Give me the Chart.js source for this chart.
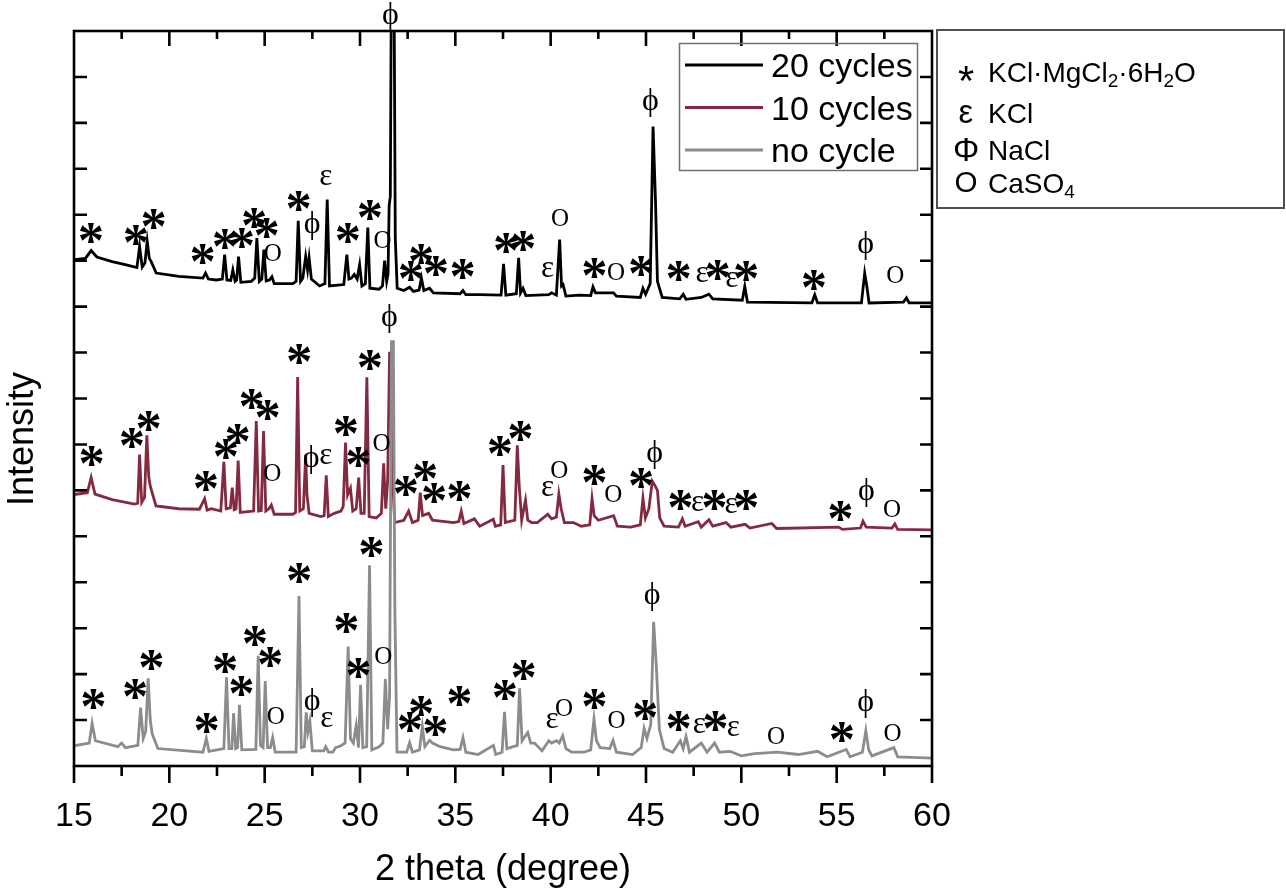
<!DOCTYPE html>
<html>
<head>
<meta charset="utf-8">
<title>XRD cycles</title>
<script src="https://cdn.jsdelivr.net/npm/chart.js@4.4.0/dist/chart.umd.min.js"></script>
<style>
  body { margin: 0; background: #fff; }
</style>
</head>
<body>
<canvas id="xrdChart" width="1286" height="894"></canvas>
<script>
// 2 theta / intensity (offset units)
var cycles20 = [
  [15.0, 11.02], [15.6, 11.05], [15.9, 11.22], [16.2, 11.08], [17.0, 10.98], [17.74, 10.91],
  [18.3, 10.85], [18.44, 11.31], [18.58, 10.86], [18.72, 10.95], [18.84, 11.42], [18.95, 11.05],
  [19.05, 10.98], [19.31, 10.73], [20.5, 10.66], [21.76, 10.62], [21.9, 10.73], [22.05, 10.6],
  [22.46, 10.58], [22.78, 10.6], [22.9, 11.13], [23.02, 10.58], [23.22, 10.57], [23.33, 10.8],
  [23.45, 10.55], [23.53, 10.58], [23.63, 11.09], [23.75, 10.53], [24.3, 10.55], [24.48, 10.62],
  [24.59, 11.49], [24.72, 10.55], [24.85, 10.6], [24.96, 11.24], [25.08, 10.56], [25.25, 10.58],
  [25.38, 10.65], [25.5, 10.5], [26.48, 10.5], [26.65, 10.55], [26.76, 11.87], [26.88, 10.55],
  [27.0, 10.62], [27.15, 11.09], [27.25, 10.8], [27.33, 11.07], [27.45, 10.6], [27.88, 10.45],
  [28.16, 10.5], [28.28, 12.33], [28.4, 10.45], [29.15, 10.48], [29.31, 11.13], [29.42, 10.6],
  [29.55, 10.62], [29.7, 10.7], [29.85, 10.6], [29.98, 10.91], [30.1, 10.45], [30.28, 10.5],
  [30.41, 11.72], [30.52, 10.4], [31.0, 10.38], [31.18, 10.45], [31.29, 11.0], [31.4, 10.55],
  [31.47, 10.7], [31.53, 12.2], [31.59, 12.4], [31.65, 17.5], [31.78, 17.5], [31.85, 11.5],
  [31.95, 10.4], [32.3, 10.35], [32.6, 10.42], [32.8, 10.33], [33.1, 10.36], [33.22, 10.62],
  [33.35, 10.35], [33.65, 10.4], [33.85, 10.3], [35.25, 10.28], [35.4, 10.35], [35.55, 10.26],
  [36.28, 10.26], [37.4, 10.25], [37.53, 10.93], [37.65, 10.25], [38.2, 10.28], [38.32, 11.06],
  [38.42, 10.3], [38.55, 10.4], [38.7, 10.24], [39.9, 10.26], [40.05, 10.3], [40.3, 10.25],
  [40.47, 11.46], [40.57, 10.45], [40.65, 10.48], [40.8, 10.23], [41.5, 10.25], [42.1, 10.24],
  [42.22, 10.43], [42.35, 10.3], [43.3, 10.3], [43.45, 10.23], [44.7, 10.2], [44.84, 10.4],
  [44.98, 10.27], [45.22, 10.5], [45.37, 13.92], [45.5, 12.27], [45.6, 10.55], [45.85, 10.2],
  [46.77, 10.17], [46.95, 10.27], [47.1, 10.16], [47.9, 10.2], [48.3, 10.27], [48.5, 10.17],
  [50.05, 10.14], [50.18, 10.44], [50.32, 10.1], [53.7, 10.08], [53.85, 10.26], [54.0, 10.08],
  [56.3, 10.08], [56.47, 10.73], [56.58, 10.45], [56.7, 10.08], [58.5, 10.1], [58.66, 10.19],
  [58.8, 10.08], [60.0, 10.08]
];

var cycles10 = [
  [15.0, 5.91], [15.7, 5.95], [15.9, 6.28], [16.1, 5.92], [17.0, 5.8], [18.17, 5.7],
  [18.34, 5.72], [18.44, 6.78], [18.55, 5.74], [18.7, 5.85], [18.82, 7.2], [18.92, 6.3],
  [19.0, 6.09], [19.3, 5.66], [20.5, 5.6], [21.58, 5.59], [21.85, 5.82], [21.98, 5.57],
  [22.2, 5.6], [22.7, 5.55], [22.86, 6.62], [22.98, 5.6], [23.2, 5.62], [23.3, 6.06],
  [23.4, 5.58], [23.5, 5.6], [23.61, 6.65], [23.72, 5.52], [24.42, 5.55], [24.56, 7.51],
  [24.68, 5.55], [24.82, 5.56], [24.94, 7.29], [25.06, 5.55], [25.22, 5.6], [25.35, 5.68],
  [25.5, 5.48], [26.48, 5.48], [26.62, 5.52], [26.73, 8.47], [26.84, 5.55], [27.03, 5.6],
  [27.15, 6.78], [27.22, 5.9], [27.33, 5.5], [27.95, 5.43], [28.12, 5.45], [28.23, 6.33],
  [28.34, 5.43], [28.65, 5.5], [29.0, 5.55], [29.12, 5.65], [29.24, 7.04], [29.35, 5.9],
  [29.5, 6.05], [29.62, 5.55], [29.8, 5.6], [29.93, 6.28], [30.05, 5.5], [30.22, 5.5],
  [30.36, 8.46], [30.48, 5.43], [30.85, 5.4], [31.12, 5.5], [31.24, 6.59], [31.35, 5.6],
  [31.45, 6.2], [31.55, 8.99], [31.66, 9.0], [31.74, 6.0], [31.82, 5.3], [32.3, 5.35],
  [32.55, 5.55], [32.75, 5.3], [33.05, 5.35], [33.16, 5.95], [33.28, 5.45], [33.6, 5.5],
  [33.8, 5.35], [34.9, 5.3], [35.18, 5.32], [35.31, 5.55], [35.45, 5.28], [36.0, 5.38],
  [36.28, 5.22], [36.99, 5.37], [37.1, 5.22], [37.38, 5.25], [37.5, 6.55], [37.62, 5.3],
  [38.12, 5.35], [38.25, 6.98], [38.35, 6.1], [38.48, 5.35], [38.68, 5.79], [38.8, 5.35],
  [39.0, 5.3], [39.3, 5.3], [39.85, 5.48], [40.05, 5.38], [40.3, 5.42], [40.43, 5.92],
  [40.55, 5.6], [40.72, 5.3], [41.2, 5.3], [41.6, 5.22], [42.05, 5.25], [42.17, 5.82],
  [42.28, 5.45], [42.5, 5.35], [43.3, 5.45], [43.5, 5.22], [44.2, 5.2], [44.7, 5.25],
  [44.84, 5.83], [44.97, 5.4], [45.15, 5.6], [45.33, 6.2], [45.45, 6.12], [45.6, 6.0],
  [45.72, 5.4], [45.95, 5.22], [46.7, 5.2], [46.91, 5.38], [47.05, 5.22], [47.74, 5.32],
  [47.9, 5.2], [48.3, 5.36], [48.5, 5.22], [49.2, 5.3], [49.45, 5.2], [50.2, 5.26],
  [50.45, 5.18], [51.6, 5.28], [51.85, 5.17], [55.1, 5.2], [55.3, 5.15], [56.25, 5.18],
  [56.38, 5.33], [56.55, 5.2], [57.9, 5.18], [58.05, 5.27], [58.2, 5.15], [60.0, 5.14]
];

var noCycle = [
  [15.0, 0.44], [15.8, 0.5], [15.95, 0.93], [16.12, 0.55], [17.3, 0.42], [17.5, 0.5],
  [17.7, 0.4], [18.35, 0.45], [18.49, 1.27], [18.63, 0.6], [18.76, 0.75], [18.89, 1.91],
  [19.0, 1.0], [19.1, 0.7], [19.4, 0.38], [21.76, 0.3], [21.94, 0.6], [22.08, 0.32],
  [22.86, 0.38], [23.0, 1.93], [23.13, 0.38], [23.28, 0.38], [23.37, 1.15], [23.48, 0.38],
  [23.58, 0.4], [23.68, 1.33], [23.8, 0.35], [24.54, 0.36], [24.66, 2.4], [24.78, 0.45],
  [24.92, 0.4], [25.03, 1.85], [25.15, 0.4], [25.3, 0.4], [25.42, 0.62], [25.55, 0.3],
  [26.65, 0.3], [26.8, 3.7], [26.92, 0.4], [27.08, 0.42], [27.18, 1.17], [27.27, 0.75],
  [27.37, 0.97], [27.5, 0.33], [28.1, 0.33], [28.2, 0.42], [28.35, 0.3], [28.58, 0.3],
  [28.72, 0.4], [29.0, 0.44], [29.22, 0.5], [29.38, 2.6], [29.5, 0.59], [29.65, 0.5],
  [29.8, 0.88], [29.92, 0.4], [30.03, 1.77], [30.15, 0.4], [30.35, 0.42], [30.5, 4.37],
  [30.62, 0.35], [31.0, 0.42], [31.2, 0.5], [31.33, 1.89], [31.45, 0.8], [31.55, 1.5],
  [31.65, 9.24], [31.75, 9.24], [31.83, 3.35], [31.94, 0.3], [32.45, 0.3], [32.6, 0.51],
  [32.75, 0.3], [33.12, 0.35], [33.27, 0.86], [33.4, 0.42], [33.65, 0.56], [33.8, 0.5],
  [34.2, 0.42], [34.9, 0.35], [35.25, 0.36], [35.4, 0.62], [35.55, 0.3], [36.2, 0.25],
  [37.0, 0.45], [37.12, 0.25], [37.45, 0.3], [37.58, 1.18], [37.7, 0.38], [38.25, 0.45],
  [38.37, 1.69], [38.5, 0.55], [38.8, 0.73], [38.95, 0.5], [39.15, 0.5], [39.55, 0.33],
  [39.9, 0.55], [40.05, 0.5], [40.3, 0.55], [40.45, 0.5], [40.63, 0.66], [40.8, 0.38],
  [41.1, 0.3], [41.75, 0.3], [42.1, 0.35], [42.27, 1.02], [42.4, 0.55], [42.6, 0.4],
  [43.1, 0.38], [43.27, 0.56], [43.45, 0.3], [44.3, 0.25], [44.75, 0.4], [44.9, 0.82],
  [45.05, 0.6], [45.25, 0.9], [45.4, 3.14], [45.55, 2.11], [45.7, 0.8], [45.95, 0.38],
  [46.4, 0.3], [46.8, 0.55], [46.95, 0.38], [47.1, 0.64], [47.28, 0.3], [47.9, 0.5],
  [48.2, 0.3], [48.6, 0.5], [48.85, 0.3], [49.4, 0.32], [50.0, 0.22], [50.7, 0.27],
  [51.9, 0.3], [53.0, 0.25], [54.0, 0.32], [54.5, 0.2], [55.5, 0.36], [55.7, 0.2],
  [56.35, 0.3], [56.53, 0.77], [56.68, 0.35], [56.85, 0.22], [58.0, 0.4], [58.2, 0.2],
  [60.0, 0.17]
];

// phase marks above the peaks: symbol, 2 theta, height
var marks20 = [
  ['*', 15.9, 11.6], ['*', 18.26, 11.57], ['*', 19.19, 11.91], ['*', 21.76, 11.15], ['*', 22.93, 11.47],
  ['*', 23.82, 11.49], ['*', 24.47, 11.93], ['*', 25.12, 11.72], ['O', 25.45, 11.17], ['*', 26.8, 12.31],
  ['ϕ', 27.5, 11.76], ['ε', 28.23, 12.81], ['*', 29.38, 11.6], ['*', 30.54, 12.11], ['O', 31.2, 11.46],
  ['ϕ', 31.6, 16.31], ['*', 32.69, 10.77], ['*', 33.22, 11.15], ['*', 34.0, 10.88], ['*', 35.4, 10.82],
  ['*', 37.68, 11.38], ['*', 38.58, 11.42], ['ε', 39.86, 10.8], ['O', 40.52, 11.95], ['*', 42.31, 10.84],
  ['O', 43.45, 10.77], ['*', 44.76, 10.88], ['ϕ', 45.23, 14.44], ['*', 46.73, 10.77], ['ε', 47.96, 10.7],
  ['*', 48.78, 10.8], ['ε', 49.53, 10.59], ['*', 50.27, 10.77], ['*', 53.82, 10.57], ['ϕ', 56.53, 11.33],
  ['O', 58.1, 10.7]
];
var marks10 = [
  ['*', 15.94, 6.74], ['*', 18.05, 7.14], ['*', 18.93, 7.51], ['*', 21.94, 6.2], ['*', 22.99, 6.89],
  ['*', 23.6, 7.22], ['*', 24.33, 7.98], ['*', 25.17, 7.76], ['O', 25.43, 6.38], ['*', 26.83, 8.96],
  ['ϕ', 27.44, 6.67], ['ε', 28.23, 6.74], ['*', 29.28, 7.41], ['*', 29.93, 6.73], ['*', 30.54, 8.83],
  ['O', 31.15, 7.04], ['ϕ', 31.55, 9.75], ['*', 32.43, 6.09], ['*', 33.43, 6.42], ['*', 33.91, 5.95],
  ['*', 35.23, 5.99], ['*', 37.36, 6.96], ['*', 38.43, 7.3], ['ε', 39.86, 6.04], ['O', 40.47, 6.46],
  ['*', 42.31, 6.33], ['O', 43.31, 5.93], ['*', 44.76, 6.28], ['ϕ', 45.46, 6.78], ['*', 46.82, 5.8],
  ['ε', 47.73, 5.72], ['*', 48.6, 5.8], ['ε', 49.48, 5.66], ['*', 50.27, 5.8], ['*', 55.21, 5.55],
  ['ϕ', 56.56, 5.96], ['O', 57.93, 5.6]
];
var marks0 = [
  ['*', 16.04, 1.46], ['*', 18.23, 1.67], ['*', 19.08, 2.31], ['*', 21.97, 0.93], ['*', 22.95, 2.24],
  ['*', 23.8, 1.75], ['*', 24.5, 2.83], ['*', 25.31, 2.38], ['O', 25.61, 1.11], ['*', 26.83, 4.2],
  ['ϕ', 27.5, 1.38], ['ε', 28.28, 1.02], ['*', 29.31, 3.11], ['*', 29.94, 2.13], ['*', 30.62, 4.77],
  ['O', 31.25, 2.41], ['*', 32.64, 0.95], ['*', 33.22, 1.31], ['*', 33.97, 0.88], ['*', 35.23, 1.53],
  ['*', 37.62, 1.66], ['*', 38.6, 2.09], ['ε', 40.09, 0.98], ['O', 40.73, 1.27], ['*', 42.31, 1.46],
  ['O', 43.48, 1.02], ['*', 44.97, 1.22], ['ϕ', 45.33, 3.7], ['*', 46.73, 0.97], ['ε', 47.82, 0.88],
  ['*', 48.66, 0.97], ['ε', 49.6, 0.82], ['O', 51.84, 0.67], ['*', 55.29, 0.75], ['ϕ', 56.53, 1.35],
  ['O', 57.96, 0.73]
];

var seriesNames = ['20 cycles', '10 cycles', 'no cycle'];
var seriesColors = ['#000000', '#842a40', '#8c8c8c'];

var phaseSymbols = ['*', 'ε', 'Φ', 'O'];
var phaseNames = [
  [['KCl·MgCl', 0], ['2', 1], ['·6H', 0], ['2', 1], ['O', 0]],
  [['KCl', 0]],
  [['NaCl', 0]],
  [['CaSO', 0], ['4', 1]]
];

var sans = '"Liberation Sans", Arial, sans-serif';
var serif = '"Liberation Serif", "DejaVu Serif", serif';
// wanted ink height of each mark glyph, px
var markHeight = { '*': 20, 'ε': 15, 'ϕ': 29, 'O': 17 };
var keyHeight = { '*': 15, 'ε': 18, 'Φ': 23, 'O': 21 };

function toPoints(arr) {
  return arr.map(function (p) { return { x: p[0], y: p[1] }; });
}

// font size that gives a glyph the wanted ink height
var fontCache = {};
function fitFont(ctx, sym, family, weight, height) {
  var key = sym + family + weight + height;
  if (fontCache[key]) return fontCache[key];
  ctx.font = weight + ' 100px ' + family;
  var m = ctx.measureText(sym);
  var h = m.actualBoundingBoxAscent + m.actualBoundingBoxDescent;
  fontCache[key] = weight + ' ' + (100 * height / h).toFixed(1) + 'px ' + family;
  return fontCache[key];
}

function drawCentered(ctx, text, cx, cy) {
  var m = ctx.measureText(text);
  var x = cx - (m.actualBoundingBoxRight - m.actualBoundingBoxLeft) / 2;
  var y = cy - (m.actualBoundingBoxDescent - m.actualBoundingBoxAscent) / 2;
  ctx.fillText(text, x, y);
}

var decorPlugin = {
  id: 'decor',
  afterDraw: function (chart) {
    var ctx = chart.ctx;
    var xs = chart.scales.x;
    var ys = chart.scales.y;
    var a = chart.chartArea;

    ctx.save();
    ctx.strokeStyle = '#000';
    ctx.lineWidth = 2.6;
    ctx.strokeRect(a.left, a.top, a.right - a.left, a.bottom - a.top);

    ctx.beginPath();
    xs.ticks.forEach(function (t) {
      var px = xs.getPixelForValue(t.value);
      var major = t.value % 5 === 0;
      ctx.moveTo(px, a.bottom);
      ctx.lineTo(px, a.bottom + (major ? 17 : 10));
      if (t.value > xs.min && t.value < xs.max) {
        ctx.moveTo(px, a.top);
        ctx.lineTo(px, a.top + (major ? 15 : 8));
      }
    });
    ys.ticks.forEach(function (t) {
      if (t.value <= ys.min || t.value >= ys.max) return;
      var py = ys.getPixelForValue(t.value);
      ctx.moveTo(a.left, py);
      ctx.lineTo(a.left + 13, py);
      ctx.moveTo(a.right, py);
      ctx.lineTo(a.right - 12, py);
    });
    ctx.stroke();

    // phase marks
    ctx.fillStyle = '#000';
    ctx.textAlign = 'left';
    ctx.textBaseline = 'alphabetic';
    [marks20, marks10, marks0].forEach(function (list) {
      list.forEach(function (mk) {
        ctx.font = fitFont(ctx, mk[0], serif, mk[0] === '*' ? 'bold' : 'normal', markHeight[mk[0]]);
        drawCentered(ctx, mk[0], xs.getPixelForValue(mk[1]), ys.getPixelForValue(mk[2]));
      });
    });

    // series legend
    ctx.strokeStyle = '#707070';
    ctx.lineWidth = 1.5;
    ctx.strokeRect(679.5, 43.5, 238, 127);
    ctx.font = '34px ' + sans;
    chart.data.datasets.forEach(function (ds, i) {
      var ly = 65 + i * 42.5;
      ctx.strokeStyle = ds.borderColor;
      ctx.lineWidth = 3;
      ctx.beginPath();
      ctx.moveTo(685, ly);
      ctx.lineTo(763, ly);
      ctx.stroke();
      ctx.fillStyle = '#000';
      ctx.fillText(ds.label, 771, ly + 12);
    });

    // phase key
    ctx.strokeStyle = '#505050';
    ctx.lineWidth = 2;
    ctx.strokeRect(937, 30, 347, 178);
    var rowY = [82, 123, 160, 193];
    var symY = [74, 114, 149, 182];
    phaseSymbols.forEach(function (sym, i) {
      ctx.font = fitFont(ctx, sym, sans, 'normal', keyHeight[sym]);
      drawCentered(ctx, sym, 966, symY[i]);
      var x = 988;
      phaseNames[i].forEach(function (seg) {
        ctx.font = (seg[1] ? '19px ' : '28px ') + sans;
        ctx.fillText(seg[0], x, rowY[i] + (seg[1] ? 5 : 0));
        x += ctx.measureText(seg[0]).width;
      });
    });

    // y axis title
    ctx.font = '36px ' + sans;
    ctx.textAlign = 'center';
    ctx.translate(33, 439);
    ctx.rotate(-Math.PI / 2);
    ctx.fillText('Intensity', 0, 0);
    ctx.restore();
  }
};

var chart = new Chart(document.getElementById('xrdChart'), {
  type: 'line',
  data: {
    datasets: [
      { label: seriesNames[0], data: toPoints(cycles20), borderColor: seriesColors[0], order: 1 },
      { label: seriesNames[1], data: toPoints(cycles10), borderColor: seriesColors[1], order: 2 },
      { label: seriesNames[2], data: toPoints(noCycle), borderColor: seriesColors[2], order: 0 }
    ]
  },
  options: {
    responsive: false,
    animation: false,
    devicePixelRatio: 1,
    elements: {
      point: { radius: 0 },
      line: { borderWidth: 2.8, tension: 0, fill: false }
    },
    layout: { padding: { left: 0, right: 354, top: 31, bottom: 0 } },
    plugins: {
      legend: { display: false },
      tooltip: { enabled: false }
    },
    scales: {
      x: {
        type: 'linear',
        min: 15,
        max: 60,
        afterFit: function (s) { s.height = 128; },
        grid: { display: false },
        border: { display: false },
        ticks: {
          stepSize: 2.5,
          autoSkip: false,
          maxRotation: 0,
          padding: 22,
          color: '#000',
          font: { family: sans, size: 34 },
          callback: function (v) { return v % 5 === 0 ? v : ''; }
        },
        title: {
          display: true,
          text: '2 theta (degree)',
          color: '#000',
          font: { family: sans, size: 36 },
          padding: { top: 0, bottom: 2 }
        }
      },
      y: {
        type: 'linear',
        min: 0,
        max: 16,
        afterFit: function (s) { s.width = 74; },
        grid: { display: false },
        border: { display: false },
        ticks: { display: false, stepSize: 1 }
      }
    }
  },
  plugins: [decorPlugin]
});
</script>
</body>
</html>
